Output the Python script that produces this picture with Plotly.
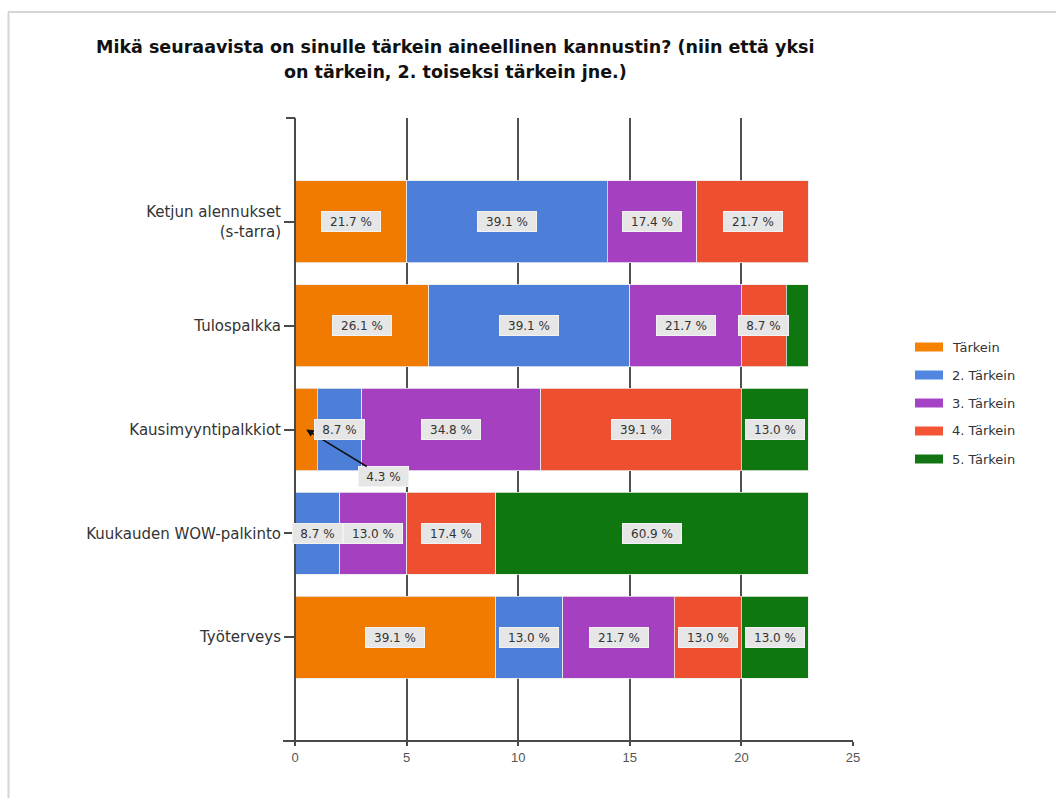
import plotly.graph_objects as go

# Survey answers (n = 23): how many respondents ranked each incentive at each place
categories = [
    "Ketjun alennukset<br>(s-tarra)",
    "Tulospalkka",
    "Kausimyyntipalkkiot",
    "Kuukauden WOW-palkinto",
    "Työterveys",
]
series_names = ["Tärkein", "2. Tärkein", "3. Tärkein", "4. Tärkein", "5. Tärkein"]
rank1 = [5, 6, 1, 0, 9]
rank2 = [9, 9, 2, 2, 3]
rank3 = [4, 5, 8, 3, 5]
rank4 = [5, 2, 9, 4, 3]
rank5 = [0, 1, 3, 14, 3]
x_ticks = [0, 5, 10, 15, 20, 25]

series_values = [rank1, rank2, rank3, rank4, rank5]
bar_colors = ["#F07B00", "#4D7FD9", "#A540C0", "#ED4F30", "#0F770F"]
legend_colors = ["#F58200", "#5086E0", "#A444C4", "#F25434", "#137413"]

FONT = "DejaVu Sans, Verdana, sans-serif"
NUM_FONT = "Liberation Sans, Arial, sans-serif"

fig = go.Figure()

for name, vals, col in zip(series_names, series_values, bar_colors):
    fig.add_trace(go.Bar(
        y=categories, x=vals, name=name, orientation="h",
        marker=dict(color=col, line=dict(color="rgba(235,235,235,0.8)", width=1)),
        width=0.79, showlegend=False, hoverinfo="x+y+name",
    ))

# percentage labels on the segments
hidden = {(1, 4)}                # too narrow to label
callouts = {(2, 0): (77, 47)}    # labelled with a leader arrow
annotations = []
for ci, cat in enumerate(categories):
    total = sum(s[ci] for s in series_values)
    left = 0
    for si, vals in enumerate(series_values):
        v = vals[ci]
        mid = left + v / 2
        left += v
        if v == 0 or (ci, si) in hidden:
            continue
        label = f"{v / total * 100:.1f} %"
        ann = dict(
            x=mid, y=cat, xref="x", yref="y", text=label,
            font=dict(family=FONT, size=12, color="#333333"),
            bgcolor="#E6E6E6", bordercolor="#F2F2F2", borderwidth=1,
            borderpad=1, width=9 * len(label) + 2, height=17,
            showarrow=False,
        )
        if (ci, si) in callouts:
            ax, ay = callouts[(ci, si)]
            ann.update(showarrow=True, ax=ax, ay=ay, arrowhead=2,
                       arrowsize=1, arrowwidth=1.5, arrowcolor="#111111")
        annotations.append(ann)

# title, set as two centred lines
title_lines = [
    "Mikä seuraavista on sinulle tärkein aineellinen kannustin? (niin että yksi",
    "on tärkein, 2. toiseksi tärkein jne.)",
]
for i, line in enumerate(title_lines):
    annotations.append(dict(
        x=455, y=47 + 25 * i, xref="paper", yref="paper", text=f"<b>{line}</b>",
        showarrow=False, xanchor="center", yanchor="middle",
        font=dict(family=FONT, size=17.5, color="#111111"),
    ))

# legend drawn as swatches and labels
shapes = []
for i, (name, col) in enumerate(zip(series_names, legend_colors)):
    yc = 347 + 28 * i
    shapes.append(dict(type="rect", xref="paper", yref="paper",
                       x0=915, x1=943, y0=yc - 4.5, y1=yc + 4.5,
                       fillcolor=col, line=dict(width=0)))
    annotations.append(dict(
        x=950, y=yc, xref="paper", yref="paper", text=name, showarrow=False,
        xanchor="left", yanchor="middle",
        font=dict(family=FONT, size=13, color="#333333"),
    ))

# plot-area geometry in pixels
L, R, T, B = 295, 853, 118, 741
W, H = 1056, 798


def px(xp):
    return (xp - L) / (R - L)


def py(yp):
    return (B - yp) / (B - T)


for a in annotations:
    if a["xref"] == "paper":
        a["x"] = px(a["x"])
        a["y"] = py(a["y"])
for s in shapes:
    s["x0"], s["x1"] = px(s["x0"]), px(s["x1"])
    s["y0"], s["y1"] = py(s["y0"]), py(s["y1"])

axis_col = "#4A4A4A"
# axis lines, the little cap at the top of the value axis, and the outer frame
shapes += [
    dict(type="line", xref="paper", yref="paper", x0=px(283), x1=1, y0=0, y1=0,
         line=dict(color=axis_col, width=2)),
    dict(type="line", xref="paper", yref="paper", x0=0, x1=0, y0=0, y1=1,
         line=dict(color=axis_col, width=2)),
    dict(type="line", xref="paper", yref="paper", x0=px(286), x1=0, y0=1, y1=1,
         line=dict(color=axis_col, width=2)),
    dict(type="line", xref="paper", yref="paper", x0=px(8), x1=px(W), y0=py(12), y1=py(12),
         line=dict(color="#D4D4D4", width=2)),
    dict(type="line", xref="paper", yref="paper", x0=px(8.5), x1=px(8.5), y0=py(12), y1=py(W),
         line=dict(color="#D4D4D4", width=2)),
]

fig.update_layout(
    barmode="stack",
    width=W, height=H,
    margin=dict(l=L, r=W - R, t=T, b=H - B, pad=0),
    paper_bgcolor="white", plot_bgcolor="white",
    font=dict(family=FONT, size=13, color="#333333"),
    xaxis=dict(
        range=[0, 25], tickvals=x_ticks, ticktext=[str(t) for t in x_ticks],
        showgrid=True, gridcolor="#505050", gridwidth=2, zeroline=False,
        ticks="outside", ticklen=4, tickwidth=2, tickcolor=axis_col,
        tickfont=dict(family=NUM_FONT, size=13, color="#555555"), showline=False,
    ),
    yaxis=dict(
        categoryorder="array", categoryarray=categories, range=[5, -1],
        showgrid=False, zeroline=False, showline=False,
        ticks="outside", ticklen=10, tickwidth=1.5, tickcolor=axis_col,
        tickfont=dict(family=FONT, size=15, color="#333333"),
    ),
    annotations=annotations, shapes=shapes, showlegend=False,
)

fig.write_html("out.html")
